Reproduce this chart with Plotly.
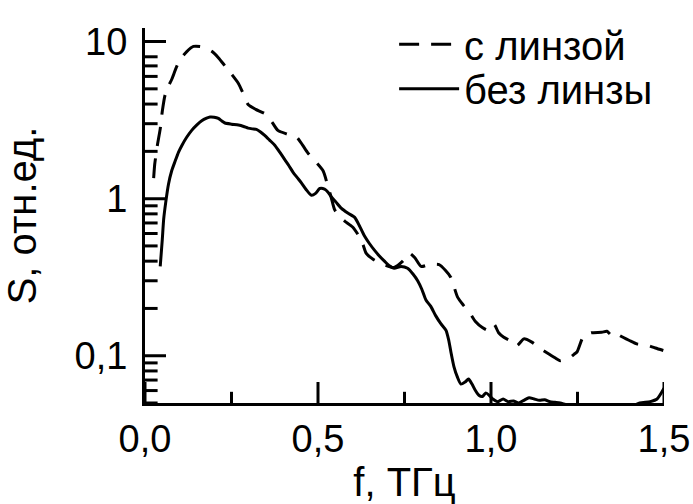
import plotly.graph_objects as go

# ---- data ----
f_lens = [0.025, 0.028, 0.036, 0.044, 0.050, 0.058, 0.068, 0.078, 0.090, 0.102, 0.120, 0.140, 0.160, 0.175,
          0.193, 0.212, 0.231, 0.250, 0.270, 0.285, 0.298, 0.320, 0.350, 0.368, 0.384, 0.410, 0.438, 0.455,
          0.471, 0.493, 0.515, 0.529, 0.538, 0.548, 0.560, 0.577, 0.600, 0.620, 0.630, 0.639, 0.660, 0.690,
          0.720, 0.745, 0.764, 0.780, 0.798, 0.820, 0.850, 0.868, 0.884, 0.903, 0.920, 0.937, 0.955, 0.975,
          0.992, 1.009, 1.022, 1.037, 1.055, 1.075, 1.095, 1.118, 1.140, 1.172, 1.185, 1.200, 1.215, 1.225,
          1.240, 1.249, 1.268, 1.290, 1.320, 1.335, 1.350, 1.365, 1.373, 1.400, 1.421, 1.450, 1.475, 1.498]
s_lens = [1.35, 1.65, 2.2, 2.78, 3.6, 4.57, 5.2, 5.8, 6.8, 7.71, 8.6, 9.31, 9.3, 9.1,
          8.68, 7.9, 7.0, 6.2, 5.41, 4.6, 3.97, 3.7, 3.44, 3.05, 2.72, 2.58, 2.47, 2.2,
          1.95, 1.72, 1.50, 1.19, 1.02, 0.85, 0.78, 0.72, 0.66, 0.57, 0.51, 0.45, 0.41, 0.38,
          0.365, 0.40, 0.45, 0.42, 0.37, 0.38, 0.38, 0.35, 0.315, 0.237, 0.21, 0.19, 0.165, 0.151,
          0.145, 0.158, 0.14, 0.131, 0.125, 0.116, 0.128, 0.122, 0.112, 0.101, 0.097, 0.093, 0.095, 0.096,
          0.102, 0.106, 0.134, 0.140, 0.141, 0.143, 0.134, 0.138, 0.134, 0.125, 0.119, 0.117, 0.112, 0.108]

f_nolens = [0.044, 0.050, 0.054, 0.060, 0.068, 0.077, 0.087, 0.097, 0.107, 0.120, 0.135, 0.150, 0.164, 0.178,
            0.188, 0.200, 0.212, 0.222, 0.231, 0.250, 0.270, 0.285, 0.298, 0.310, 0.322, 0.334, 0.346, 0.360,
            0.375, 0.390, 0.404, 0.416, 0.428, 0.440, 0.452, 0.466, 0.481, 0.493, 0.505, 0.519, 0.529, 0.538,
            0.552, 0.567, 0.586, 0.606, 0.620, 0.634, 0.648, 0.663, 0.678, 0.692, 0.705, 0.720, 0.740, 0.759,
            0.775, 0.788, 0.800, 0.812, 0.826, 0.840, 0.855, 0.870, 0.878, 0.884, 0.893, 0.903, 0.913, 0.925,
            0.935, 0.945, 0.955, 0.965, 0.975, 0.985, 0.995, 1.005, 1.020, 1.035, 1.050, 1.065, 1.080, 1.095,
            1.110, 1.125, 1.140, 1.155, 1.170, 1.185, 1.200, 1.215, 1.250, 1.300, 1.350, 1.400, 1.430, 1.460,
            1.480, 1.500]
s_nolens = [0.37, 0.55, 0.74, 0.95, 1.24, 1.50, 1.73, 1.98, 2.19, 2.45, 2.72, 2.95, 3.13, 3.25,
            3.31, 3.30, 3.24, 3.12, 3.03, 2.98, 2.94, 2.88, 2.81, 2.78, 2.76, 2.66, 2.53, 2.36,
            2.19, 1.97, 1.77, 1.62, 1.47, 1.36, 1.26, 1.14, 1.05, 1.08, 1.16, 1.15, 1.10, 1.03,
            0.95, 0.87, 0.81, 0.76, 0.67, 0.58, 0.52, 0.47, 0.43, 0.40, 0.375, 0.36, 0.37, 0.36,
            0.33, 0.30, 0.265, 0.226, 0.206, 0.18, 0.16, 0.145, 0.125, 0.106, 0.085, 0.073, 0.066, 0.068,
            0.071, 0.066, 0.060, 0.056, 0.055, 0.058, 0.056, 0.053, 0.051, 0.053, 0.051, 0.0515, 0.050, 0.052,
            0.054, 0.053, 0.052, 0.0525, 0.051, 0.0505, 0.050, 0.049, 0.047, 0.046, 0.046, 0.047, 0.050, 0.051,
            0.053, 0.062]

series_names = ["с линзой", "без линзы"]
x_tickvals = [0.0, 0.5, 1.0, 1.5]
x_ticktext = ["0,0", "0,5", "1,0", "1,5"]
x_minor = [0.25, 0.75, 1.25]
y_tickvals = [0.1, 1, 10]
y_ticktext = ["0,1", "1", "10"]
y_minor = [0.05, 0.06, 0.07, 0.08, 0.09, 0.2, 0.3, 0.4, 0.5, 0.6, 0.7, 0.8, 0.9,
           2, 3, 4, 5, 6, 7, 8]
x_title = "f, ТГц"
y_title = "S, отн.ед."

FONT = "Liberation Sans, Arial, sans-serif"
X_RANGE = [0, 1.5]
Y_RANGE = [-1.301, 1.0863]
Y_MIN = 10 ** Y_RANGE[0]
MAJOR_LEN, MINOR_LEN = 15, 9

fig = go.Figure()
fig.add_trace(go.Scatter(x=f_lens, y=s_lens, mode="lines", name=series_names[0], legend="legend",
                         line=dict(color="black", width=3, dash="20px,12px", shape="spline", smoothing=0.6)))
fig.add_trace(go.Scatter(x=f_nolens, y=s_nolens, mode="lines", name=series_names[1], legend="legend2",
                         line=dict(color="black", width=3, shape="spline", smoothing=0.6)))


# inward tick marks: line markers centred on the axis; the outer half is clipped by the plot area
def tick_trace(xs, ys, symbol, length):
    return go.Scatter(x=xs, y=ys, mode="markers", cliponaxis=True, showlegend=False, hoverinfo="skip",
                      marker=dict(symbol=symbol, size=2 * length, color="black",
                                  line=dict(color="black", width=3)))


fig.add_trace(tick_trace(x_tickvals, [Y_MIN] * len(x_tickvals), "line-ns", MAJOR_LEN))
fig.add_trace(tick_trace(x_minor, [Y_MIN] * len(x_minor), "line-ns", MINOR_LEN - 1))
fig.add_trace(tick_trace([X_RANGE[0]] * len(y_tickvals), y_tickvals, "line-ew", MAJOR_LEN))
fig.add_trace(tick_trace([X_RANGE[0]] * len(y_minor), y_minor, "line-ew", MINOR_LEN))

legend_common = dict(xanchor="left", yanchor="middle", bgcolor="rgba(0,0,0,0)",
                     font=dict(family=FONT, size=40, color="black"), itemwidth=60)

fig.update_layout(
    width=693, height=504,
    margin=dict(l=145, r=29, t=16, b=101, pad=0),
    paper_bgcolor="white", plot_bgcolor="white",
    showlegend=True,
    legend=dict(x=0.48, y=0.957, **legend_common),
    legend2=dict(x=0.48, y=0.838, **legend_common),
    xaxis=dict(range=X_RANGE, tickmode="array", tickvals=x_tickvals, ticktext=x_ticktext,
               showline=True, linecolor="black", linewidth=3, ticks="",
               showgrid=False, zeroline=False, automargin=False,
               tickfont=dict(family=FONT, size=38, color="black"),
               title=dict(text=x_title, font=dict(family=FONT, size=40, color="black"), standoff=10)),
    yaxis=dict(type="log", range=Y_RANGE, tickmode="array", tickvals=y_tickvals, ticktext=y_ticktext,
               showline=True, linecolor="black", linewidth=3, ticks="", ticklabelstandoff=7,
               showgrid=False, zeroline=False, automargin=False,
               tickfont=dict(family=FONT, size=38, color="black"),
               title=dict(text=y_title, font=dict(family=FONT, size=40, color="black"), standoff=30)),
)

fig.write_html("out.html")
